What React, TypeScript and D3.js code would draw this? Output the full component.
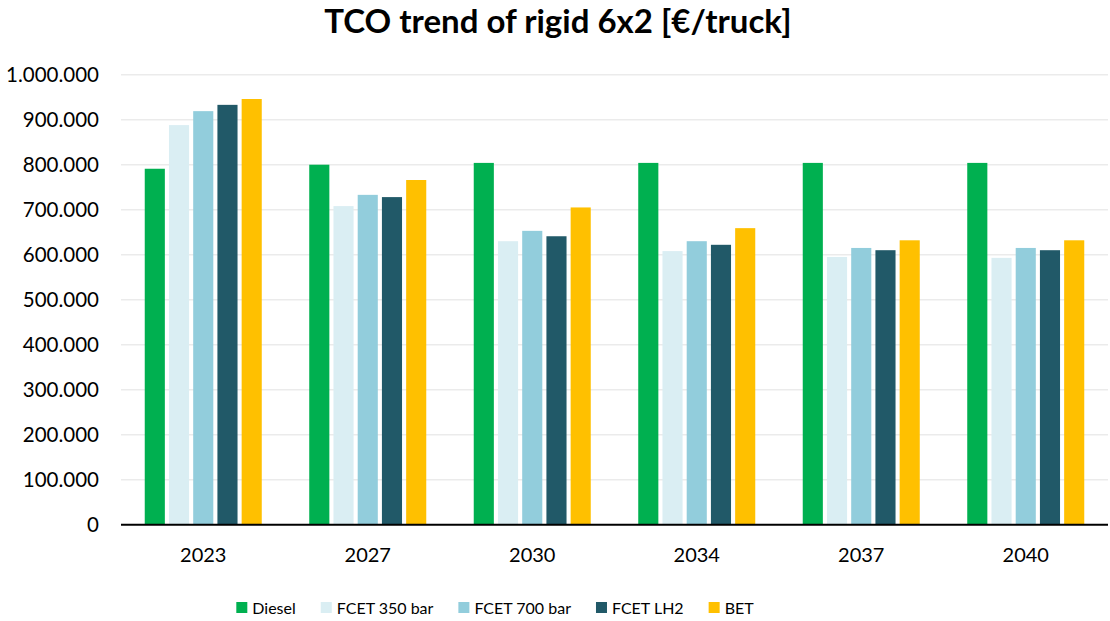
import { useEffect, useRef } from "react";
import * as d3 from "d3";

const years = ["2023", "2027", "2030", "2034", "2037", "2040"];
const seriesNames = ["Diesel", "FCET 350 bar", "FCET 700 bar", "FCET LH2", "BET"];
const seriesColors = ["#00B050", "#DAEEF3", "#92CDDC", "#215968", "#FFC000"];

const diesel = [791000, 800000, 804000, 804000, 804000, 804000];
const fcet350 = [888000, 708000, 630000, 608000, 595000, 593000];
const fcet700 = [919000, 733000, 653000, 630000, 615000, 615000];
const fcetLh2 = [933000, 728000, 641000, 622000, 610000, 610000];
const bet = [946000, 766000, 705000, 659000, 632000, 632000];

const yTicks = [0, 100000, 200000, 300000, 400000, 500000, 600000, 700000, 800000, 900000, 1000000];

const W = 1110;
const H = 621;
const FONT = "Lato, 'Noto Sans', sans-serif";

const locale = d3.formatLocale({
  decimal: ",",
  thousands: ".",
  grouping: [3],
  currency: ["", "€"],
});
const fmt = locale.format(",");

export default function App() {
  const svgRef = useRef<SVGSVGElement>(null);

  useEffect(() => {
    if (!svgRef.current) return;
    const svg = d3.select(svgRef.current);
    svg.selectAll("*").remove();

    const left = 121;
    const right = 1108;
    const top = 74.7;
    const bottom = 524.7;

    const allSeries = [diesel, fcet350, fcet700, fcetLh2, bet];

    const x0 = d3.scaleBand<string>().domain(years).range([left, right]).padding(0);
    const x1 = d3
      .scaleBand<string>()
      .domain(seriesNames)
      .range([0, x0.bandwidth()])
      .paddingInner(0.17)
      .paddingOuter(0.98);
    const y = d3.scaleLinear().domain([0, 1000000]).range([bottom, top]);

    // Title
    svg
      .append("text")
      .attr("x", 558)
      .attr("y", 33)
      .attr("text-anchor", "middle")
      .attr("font-family", FONT)
      .attr("font-size", 33)
      .attr("font-weight", 700)
      .attr("fill", "#000")
      .text("TCO trend of rigid 6x2 [€/truck]");

    // Gridlines
    svg
      .append("g")
      .selectAll("line")
      .data(yTicks.filter((t) => t > 0))
      .join("line")
      .attr("x1", left)
      .attr("x2", right)
      .attr("y1", (d) => y(d))
      .attr("y2", (d) => y(d))
      .attr("stroke", "#EBEBEB")
      .attr("stroke-width", 1.5);

    // Y labels
    svg
      .append("g")
      .selectAll("text")
      .data(yTicks)
      .join("text")
      .attr("x", 99)
      .attr("y", (d) => y(d))
      .attr("dy", "0.36em")
      .attr("text-anchor", "end")
      .attr("font-family", FONT)
      .attr("font-size", 20.5)
      .attr("fill", "#000")
      .text((d) => fmt(d));

    // Bars
    const groups = svg
      .append("g")
      .selectAll("g")
      .data(years)
      .join("g")
      .attr("transform", (d) => `translate(${x0(d)},0)`);

    groups
      .selectAll("rect")
      .data((_, i) => seriesNames.map((name, s) => ({ name, s, v: allSeries[s][i] })))
      .join("rect")
      .attr("x", (d) => x1(d.name)!)
      .attr("width", x1.bandwidth())
      .attr("y", (d) => y(d.v))
      .attr("height", (d) => y(0) - y(d.v))
      .attr("fill", (d) => seriesColors[d.s]);

    // X axis line
    svg
      .append("line")
      .attr("x1", left)
      .attr("x2", right)
      .attr("y1", bottom)
      .attr("y2", bottom)
      .attr("stroke", "#000")
      .attr("stroke-width", 2);

    // X labels
    svg
      .append("g")
      .selectAll("text")
      .data(years)
      .join("text")
      .attr("x", (d) => x0(d)! + x0.bandwidth() / 2)
      .attr("y", 562)
      .attr("text-anchor", "middle")
      .attr("font-family", FONT)
      .attr("font-size", 20)
      .attr("fill", "#000")
      .text((d) => d);

    // Legend
    const legend = svg.append("g");
    const box = 11;
    const gapBoxText = 5;
    const gapItems = 25;
    const items = legend
      .selectAll("g")
      .data(seriesNames)
      .join("g");
    items
      .append("rect")
      .attr("width", box)
      .attr("height", box)
      .attr("y", 602)
      .attr("fill", (_, i) => seriesColors[i]);
    items
      .append("text")
      .attr("x", box + gapBoxText)
      .attr("y", 614)
      .attr("font-family", FONT)
      .attr("font-size", 16)
      .attr("fill", "#000")
      .text((d) => d);

    let cursor = 0;
    const offsets: number[] = [];
    items.each(function () {
      const t = d3.select(this).select("text").node() as SVGTextElement;
      offsets.push(cursor);
      cursor += box + gapBoxText + t.getComputedTextLength() + gapItems;
    });
    const total = cursor - gapItems;
    const start = 495 - total / 2;
    items.attr("transform", (_, i) => `translate(${start + offsets[i]},0)`);
  }, []);

  return (
    <svg
      ref={svgRef}
      width={W}
      height={H}
      style={{ position: "absolute", left: 0, top: 0, background: "#fff" }}
    />
  );
}
